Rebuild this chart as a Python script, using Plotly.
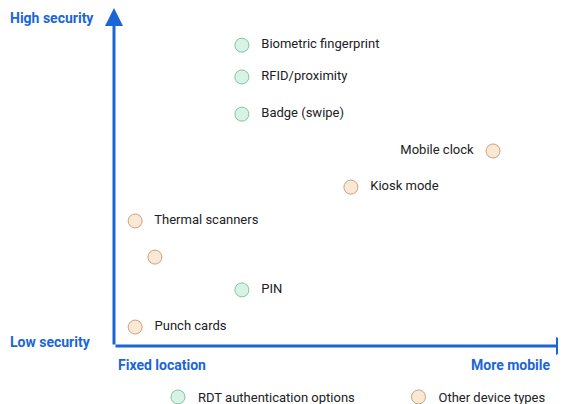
import plotly.graph_objects as go

# device positions: x = mobility (0-100), y = security (0-100)
rdt_names = ["Biometric fingerprint", "RFID/proximity", "Badge (swipe)", "PIN"]
rdt_x = [27.8, 27.8, 27.8, 27.8]
rdt_y = [89, 79.6, 68.6, 16.6]

other_names = ["Mobile clock", "Kiosk mode", "Thermal scanners", "", "Punch cards"]
other_x = [82.4, 51.5, 4.6, 8.9, 4.6]
other_y = [57.7, 47, 37, 26.3, 5.6]
other_pos = ["middle left", "middle right", "middle right", "middle right", "middle right"]

BLUE = "#1a66d6"
TXT = "#202124"

fig = go.Figure()
fig.add_trace(go.Scatter(
    x=rdt_x, y=rdt_y, mode="markers+text",
    name="RDT authentication options" + "&nbsp;" * 12,
    text=["   " + n for n in rdt_names], textposition="middle right",
    textfont=dict(family="Roboto", size=13, color=TXT),
    marker=dict(size=14, color="#d9f2e6", line=dict(color="#7fc4a6", width=1)),
))
fig.add_trace(go.Scatter(
    x=other_x, y=other_y, mode="markers+text", name="Other device types",
    text=[("   " + n) if p == "middle right" else (n + "   ") for n, p in zip(other_names, other_pos)],
    textposition=other_pos,
    textfont=dict(family="Roboto", size=13, color=TXT),
    marker=dict(size=14, color="#fbe8d4", line=dict(color="#c9a27e", width=1)),
))

# axis arrows
fig.add_annotation(x=100, y=0, ax=0, ay=0, xref="x", yref="y", axref="x", ayref="y",
                   showarrow=True, arrowhead=2, arrowsize=1.2, arrowwidth=3, arrowcolor=BLUE, text="")
fig.add_annotation(x=0, y=100, ax=0, ay=0, xref="x", yref="y", axref="x", ayref="y",
                   showarrow=True, arrowhead=2, arrowsize=1.2, arrowwidth=3, arrowcolor=BLUE, text="")

lab = dict(family="Roboto", size=14, color=BLUE)
fig.add_annotation(x=0, y=1, xref="paper", yref="paper", xanchor="left", yanchor="top",
                   text="<b>High security</b>", showarrow=False, font=lab)
fig.add_annotation(x=0, y=1.2, xref="paper", yref="y", xanchor="left", yanchor="middle",
                   text="<b>Low security</b>", showarrow=False, font=lab)
fig.add_annotation(x=0.4, y=-5.6, xref="x", yref="y", xanchor="left", yanchor="middle",
                   text="<b>Fixed location</b>", showarrow=False, font=lab)
fig.add_annotation(x=95.5, y=-5.6, xref="x", yref="y", xanchor="right", yanchor="middle",
                   text="<b>More mobile</b>", showarrow=False, font=lab)

fig.update_layout(
    width=566, height=404, margin=dict(l=0, r=0, t=0, b=0, autoexpand=False),
    plot_bgcolor="white", paper_bgcolor="white",
    xaxis=dict(range=[-23.04, 100], visible=False),
    yaxis=dict(range=[-19.53, 100], visible=False),
    legend=dict(orientation="h", x=0.265, y=0.0, xanchor="left", yanchor="bottom",
                font=dict(family="Roboto", size=13, color=TXT),
                traceorder="normal"),
)
fig.write_html("out.html")
